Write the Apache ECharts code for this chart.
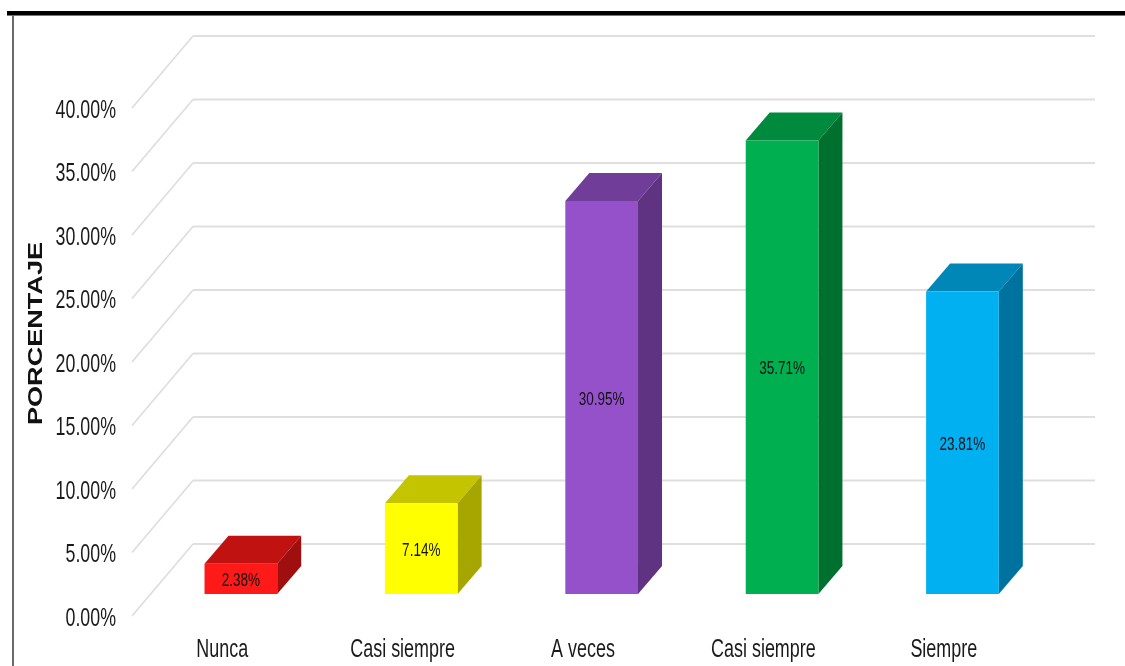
<!DOCTYPE html>
<html><head><meta charset="utf-8">
<style>html,body{margin:0;padding:0;background:#fff}#c{width:1125px;height:666px}</style>
<script src="https://cdn.jsdelivr.net/npm/echarts@6/dist/echarts.min.js"></script>
</head><body><div id="c"></div>
<script>
const categories = ['Nunca','Casi siempre','A veces','Casi siempre','Siempre'];
const percentages = [2.38,7.14,30.95,35.71,23.81];
const frontColors = ['#FF1A1A','#FFFF00','#9551C9','#00B050','#00B0F0'];
const topColors = ['#C11212','#C4C400','#703D98','#008A3D','#0087B8'];
const sideColors = ['#A00F0F','#A6A600','#5F3381','#00702F','#0072A0'];
const wallTicks = [0,5,10,15,20,25,30,35,40];
const yAxisTitle = 'PORCENTAJE';

const wallDx = 61, wallDy = -72;          // depth of the floor
const barDx = 24, barDy = -28;            // depth of each bar
const floorInset = 0.306;                 // bar position along floor depth
const sans = '"Liberation Sans",Arial,sans-serif';

// the reference text is horizontally squeezed, so it is drawn as scaled real text
function squeezed(text, x, y, align, size, sx, fill) {
  return { type: 'text', x: x, y: y, scaleX: sx, scaleY: 1,
    style: {x: 0, y: 0, text: text, align: align, verticalAlign: 'middle', fill: fill, font: size + 'px ' + sans} };
}

function renderWall(params, api) {
  const t = api.value(1);
  const band = api.size([1, 0])[0];
  const a = api.coord([0, t]);
  const b = api.coord([categories.length - 1, t]);
  const x0 = a[0] - band / 2, y = a[1];
  const x1 = b[0] + band / 2 + wallDx;
  return { type: 'group', children: [
    { type: 'line', shape: {x1: x0, y1: y, x2: x0 + wallDx, y2: y + wallDy}, style: {stroke: '#DCDCDC', lineWidth: 1.5} },
    { type: 'line', shape: {x1: x0 + wallDx, y1: y + wallDy, x2: x1, y2: y + wallDy}, style: {stroke: '#DFDFDF', lineWidth: 2} },
    squeezed(t.toFixed(2) + '%', x0 - 16, y + 2.5, 'right', 26, 0.685, '#1a1a1a')
  ]};
}

function renderBar(params, api) {
  const i = params.dataIndex, v = api.value(1);
  const band = api.size([1, 0])[0];
  const w = band * 0.403;
  const top = api.coord([i, v]), base = api.coord([i, 0]);
  const ox = wallDx * floorInset, oy = wallDy * floorInset;
  const l = top[0] + ox - w / 2, r = l + w, yt = top[1] + oy, yb = base[1] + oy;
  return { type: 'group', children: [
    { type: 'polygon', shape: {points: [[l,yt],[l+barDx,yt+barDy],[r+barDx,yt+barDy],[r,yt]]}, style: {fill: topColors[i]} },
    { type: 'polygon', shape: {points: [[r,yt],[r+barDx,yt+barDy],[r+barDx,yb+barDy],[r,yb]]}, style: {fill: sideColors[i]} },
    { type: 'rect', shape: {x: l, y: yt, width: w, height: yb - yt}, style: {fill: frontColors[i]} },
    squeezed(v.toFixed(2) + '%', (l + r) / 2, (yt + yb) / 2 + 2, 'center', 18.5, 0.73, '#111'),
    squeezed(categories[i], top[0], base[1] + 33.5, 'center', 26, 0.69, '#1a1a1a')
  ]};
}

const chart = echarts.init(document.getElementById('c'), null, {renderer: 'canvas'});
chart.setOption({
  animation: false,
  backgroundColor: '#fff',
  grid: {left: 132, top: 108, width: 902, height: 508, containLabel: false},
  xAxis: {type: 'category', data: categories,
    axisLine: {show: false}, axisTick: {show: false}, splitLine: {show: false}, axisLabel: {show: false}},
  yAxis: {type: 'value', min: 0, max: 40, interval: 5,
    axisLine: {show: false}, axisTick: {show: false}, splitLine: {show: false}, axisLabel: {show: false}},
  series: [
    {type: 'custom', name: 'walls', renderItem: renderWall, silent: true, z: 1,
      data: wallTicks.map(t => [0, t]), clip: false},
    {type: 'custom', name: 'Porcentaje', renderItem: renderBar, z: 2,
      data: percentages.map((v, i) => [i, v]), clip: false}
  ],
  graphic: [
    {type: 'rect', shape: {x: 7, y: 11, width: 1118, height: 4}, style: {fill: '#000'}, z: 10},
    {type: 'rect', shape: {x: 7, y: 15, width: 1118, height: 1}, style: {fill: '#777'}, z: 10},
    {type: 'rect', shape: {x: 12, y: 15, width: 2, height: 651}, style: {fill: '#6a6a6a'}, z: 10},
    {type: 'text', x: 36, y: 333.5, rotation: Math.PI / 2, scaleX: 1.29, scaleY: 1,
      style: {text: yAxisTitle, x: 0, y: 0, align: 'center', verticalAlign: 'middle', fill: '#111',
        font: 'bold 21px ' + sans}, z: 10}
  ]
});
</script></body></html>
